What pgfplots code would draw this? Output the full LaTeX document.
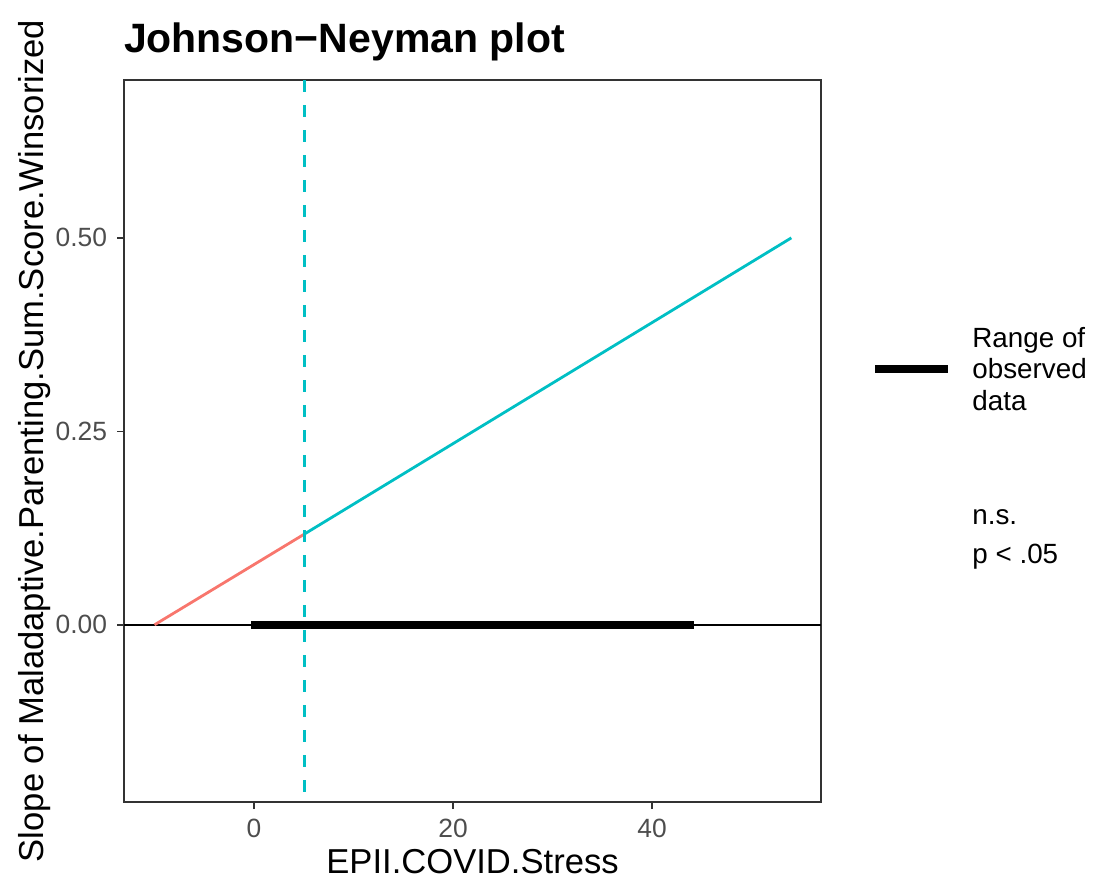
\documentclass[border=0pt]{standalone}
\usepackage{fontspec}
\setmainfont{Liberation Sans}
\usepackage{pgfplots}
\pgfplotsset{compat=1.18}

\definecolor{nsred}{HTML}{F8766D}
\definecolor{sigcyan}{HTML}{00BFC4}
\definecolor{frame}{HTML}{333333}
\definecolor{ticktxt}{HTML}{4D4D4D}

\begin{document}
\begin{tikzpicture}
% page = 1095 x 882 px at 0.5bp per px
\path[use as bounding box] (0,0) rectangle (547.5bp,441bp);

\begin{axis}[
    at={(62bp,40bp)}, anchor=south west,
    width=348.5bp, height=361bp, scale only axis,
    xmin=-13.07, xmax=56.98,
    ymin=-0.229, ymax=0.704,
    xtick={0,20,40}, ytick={0,0.25,0.5},
    yticklabel style={xshift=-1.5bp, /pgf/number format/.cd, fixed, fixed zerofill, precision=2},
    /pgf/number format/assume math mode=true,
    axis line style={frame, line width=0.8bp},
    tick style={frame, line width=0.8bp},
    tick align=outside, major tick length=3.5bp,
    xtick pos=bottom, ytick pos=left,
    ticklabel style={font=\fontsize{13.2bp}{16bp}\selectfont, text=ticktxt},
    xticklabel style={yshift=-1.5bp},
    xlabel={EPII.COVID.Stress},
    ylabel={Slope of Maladaptive.Parenting.Sum.Score.Winsorized},
    label style={font=\fontsize{17.3bp}{20bp}\selectfont},
    xlabel style={at={(axis description cs:0.5,-0.083)}, anchor=center},
    ylabel style={at={(axis description cs:-0.1277,0.5)}, anchor=center},
    title={\bfseries Johnson−Neyman plot},
    title style={font=\fontsize{20.5bp}{24bp}\selectfont,
        at={(axis description cs:0,1)}, anchor=base west, yshift=8bp, xshift=-3.5bp},
    clip=true,
]
% zero line
\addplot[black, line width=1bp] coordinates {(-13.07,0) (56.98,0)};
% range of observed data
\addplot[black, line width=4bp] coordinates {(-0.3,0) (44.2,0)};
% non-significant part
\addplot[nsred, line width=1.4bp] coordinates {(-10,0) (5.03,0.117)};
% significant part
\addplot[sigcyan, line width=1.4bp] coordinates {(5.03,0.117) (54,0.5)};
% Johnson-Neyman boundary
\addplot[sigcyan, line width=1.5bp, dash pattern=on 6bp off 6.5bp] coordinates {(5.03,0.704) (5.03,-0.229)};
\end{axis}

% legend
\draw[black, line width=4bp] (437.5bp,256.5bp) -- (474bp,256.5bp);
\node[anchor=west, align=left, inner sep=0pt,
      font=\fontsize{13.9bp}{15.75bp}\selectfont] at (486bp,256.5bp)
      {Range of\\observed\\data};
\node[anchor=west, inner sep=0pt, font=\fontsize{13.9bp}{15.75bp}\selectfont]
      at (486bp,182.5bp) {n.s.};
\node[anchor=west, inner sep=0pt, font=\fontsize{13.9bp}{15.75bp}\selectfont]
      at (486bp,162.5bp) {p < .05};
\end{tikzpicture}
\end{document}
